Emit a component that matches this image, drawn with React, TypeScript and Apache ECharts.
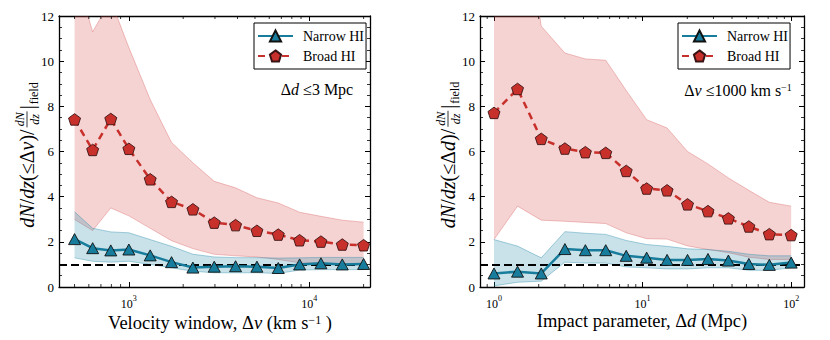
import React, { useEffect, useRef } from 'react';
import * as echarts from 'echarts';

// ---------------- data ----------------
// Left panel: velocity window (km/s)
const velocityWindow = [500, 630, 794, 1000, 1313, 1724, 2264, 2973, 3903, 5125, 6729, 8836, 11601, 15232, 20000];
const narrowByVel = [2.12, 1.72, 1.62, 1.66, 1.4, 1.1, 0.86, 0.9, 0.92, 0.9, 0.84, 1.0, 1.05, 1.0, 1.02];
const narrowByVelHi = [3.33, 2.6, 2.44, 2.4, 2.1, 1.8, 1.45, 1.33, 1.3, 1.3, 1.28, 1.29, 1.31, 1.31, 1.31];
const narrowByVelLo = [1.29, 1.14, 1.1, 1.14, 1.0, 0.85, 0.7, 0.63, 0.63, 0.63, 0.6, 0.75, 0.77, 0.77, 0.77];
const broadByVel = [7.42, 6.07, 7.44, 6.12, 4.77, 3.77, 3.44, 2.85, 2.74, 2.49, 2.32, 2.07, 2.01, 1.88, 1.85];
const broadByVelHi = [14, 11.3, 12.7, 10.6, 8.3, 6.4, 5.5, 4.68, 4.39, 3.95, 3.72, 3.31, 3.13, 2.96, 2.87];
const broadByVelLo = [2.99, 2.5, 3.5, 3.15, 2.6, 2.05, 1.7, 1.45, 1.38, 1.33, 1.22, 1.07, 1.05, 1.03, 1.0];

// Right panel: impact parameter (Mpc)
const impactParam = [1, 1.44, 2.08, 3, 4.12, 5.65, 7.76, 10.65, 14.62, 20.07, 27.55, 37.8, 51.9, 71.3, 100];
const narrowByImp = [0.6, 0.68, 0.6, 1.68, 1.63, 1.63, 1.38, 1.3, 1.2, 1.2, 1.24, 1.17, 1.02, 0.98, 1.08];
const narrowByImpHi = [2.1, 1.81, 1.29, 2.45, 2.38, 2.33, 2.06, 1.88, 1.8, 1.69, 1.66, 1.58, 1.45, 1.38, 1.38];
const narrowByImpLo = [0.05, 0.21, 0.26, 1.1, 1.06, 1.06, 0.89, 0.85, 0.8, 0.8, 0.85, 0.85, 0.74, 0.74, 0.85];
const broadByImp = [7.71, 8.77, 6.56, 6.13, 5.97, 5.94, 5.14, 4.36, 4.28, 3.66, 3.36, 3.04, 2.68, 2.34, 2.3];
const broadByImpHi = [20, 18.6, 11.55, 10.36, 10.1, 10.04, 8.7, 7.41, 7.04, 6.0, 5.45, 4.83, 4.28, 3.75, 3.58];
const broadByImpLo = [2.1, 3.58, 2.96, 2.91, 2.86, 2.81, 2.4, 2.14, 2.12, 1.82, 1.66, 1.52, 1.32, 1.22, 1.22];

// axis ranges and minor tick positions
const velRange = [410, 21700];
const impRange = [0.805, 122];
const velMinorTicks = [500, 600, 700, 800, 900, 2000, 3000, 4000, 5000, 6000, 7000, 8000, 9000, 20000];
const impMinorTicks = [0.9, 2, 3, 4, 5, 6, 7, 8, 9, 20, 30, 40, 50, 60, 70, 80, 90];
const yRange = [0, 12];
const fieldLevel = 1;
const legendNames = ['Narrow HI', 'Broad HI'];

// ---------------- styles ----------------
const FONT = '"Liberation Serif", "Times New Roman", Times, serif';
const NAR = '#187d9c';
const BRD = '#c8302b';
const PINK_FILL = 'rgba(212, 70, 70, 0.24)';
const PINK_EDGE = 'rgba(212, 70, 70, 0.32)';
const BLUE_FILL = 'rgba(40, 140, 170, 0.25)';
const BLUE_EDGE = 'rgba(40, 140, 170, 0.4)';
const PENT = 'path://M0,-1L0.951,-0.309L0.588,0.809L-0.588,0.809L-0.951,-0.309Z';

function measure(text: string, font: string): number {
  const c = document.createElement('canvas').getContext('2d');
  if (!c) return text.length * 7;
  c.font = font;
  return c.measureText(text).width;
}

function logLabel(v: number) {
  const e = Math.log10(v);
  const r = Math.round(e);
  if (Math.abs(e - r) > 1e-6) return '';
  return `{b|10}{s|${r}}`;
}

function xAxes(gridIndex: number, range: number[]) {
  const common: any = {
    type: 'log',
    logBase: 10,
    gridIndex,
    min: range[0],
    max: range[1],
    axisLine: { onZero: false, lineStyle: { color: '#000', width: 1.3 } },
    axisTick: { inside: true, length: 5, lineStyle: { color: '#000', width: 1 } },
    splitLine: { show: false },
    minorTick: { show: false },
    minorSplitLine: { show: false },
  };
  return [
    {
      ...common,
      position: 'bottom',
      axisLabel: {
        formatter: logLabel,
        showMinLabel: false,
        showMaxLabel: false,
        margin: 7,
        color: '#000',
        rich: {
          b: { fontFamily: FONT, fontSize: 12, color: '#000', padding: [4, 0, 0, 0] },
          s: { fontFamily: FONT, fontSize: 8, color: '#000', verticalAlign: 'top' },
        },
      },
    },
    { ...common, position: 'top', axisLabel: { show: false } },
  ];
}

function yAxes(gridIndex: number) {
  const common: any = {
    type: 'value',
    gridIndex,
    min: yRange[0],
    max: yRange[1],
    interval: 2,
    axisLine: { onZero: false, lineStyle: { color: '#000', width: 1.3 } },
    axisTick: { inside: true, length: 5, lineStyle: { color: '#000', width: 1 } },
    minorTick: { show: true, splitNumber: 4, length: 3, lineStyle: { color: '#000', width: 0.8 } },
    splitLine: { show: false },
  };
  return [
    { ...common, position: 'left', axisLabel: { color: '#000', fontFamily: FONT, fontSize: 13, margin: 5 } },
    { ...common, position: 'right', axisLabel: { show: false } },
  ];
}

// shaded range drawn as one polygon through the axis scales, clipped to the grid
function band(xs: number[], lo: number[], hi: number[], fill: string, edge: string, xi: number, yi: number) {
  return {
    type: 'custom', xAxisIndex: xi, yAxisIndex: yi, silent: true, z: 1,
    data: xs.map((x, i) => [x, lo[i], hi[i]]),
    encode: { x: 0, y: [1, 2] },
    renderItem: (params: any, api: any) => {
      if (params.dataIndexInside !== 0) return null;
      const n = params.dataInsideLength;
      const upper: number[][] = [];
      const lower: number[][] = [];
      for (let k = 0; k < n; k++) {
        upper.push(api.coord([api.value(0, k), api.value(2, k)]));
        lower.push(api.coord([api.value(0, k), api.value(1, k)]));
      }
      const poly = upper.concat(lower.slice().reverse());
      const cs = params.coordSys;
      return {
        type: 'group',
        clipPath: { type: 'rect', shape: { x: cs.x, y: cs.y, width: cs.width, height: cs.height } },
        children: [
          { type: 'polygon', shape: { points: poly }, style: { fill, stroke: null } },
          { type: 'polyline', shape: { points: upper }, style: { stroke: edge, lineWidth: 1, fill: null } },
          { type: 'polyline', shape: { points: lower }, style: { stroke: edge, lineWidth: 1, fill: null } },
        ],
      };
    },
  };
}

function mainSeries(xs: number[], narrow: number[], broad: number[], xi: number, yi: number) {
  return [
    {
      type: 'line', name: 'ref' + xi, xAxisIndex: xi, yAxisIndex: yi, data: [], z: 3,
      markLine: {
        silent: true, symbol: 'none', label: { show: false }, z: 3,
        lineStyle: { color: '#000', width: 2, type: [8, 4] },
        data: [{ yAxis: fieldLevel }],
      },
    },
    {
      type: 'line', name: 'Broad HI', xAxisIndex: xi, yAxisIndex: yi,
      data: xs.map((x, i) => [x, broad[i]]),
      symbol: PENT, symbolSize: [12, 11.5],
      itemStyle: { color: BRD, borderColor: '#3a1414', borderWidth: 0.9 },
      lineStyle: { color: BRD, width: 2.5, type: [7, 5] }, z: 4,
    },
    {
      type: 'line', name: 'Narrow HI', xAxisIndex: xi, yAxisIndex: yi,
      data: xs.map((x, i) => [x, narrow[i]]),
      symbol: 'triangle', symbolSize: [12, 11],
      itemStyle: { color: NAR, borderColor: '#111', borderWidth: 0.9 },
      lineStyle: { color: NAR, width: 2.5 }, z: 5,
    },
  ];
}

function minorTickSeries(ticks: number[], xi: number, yi: number) {
  return {
    type: 'custom', xAxisIndex: xi, yAxisIndex: yi, silent: true, z: 6,
    data: ticks.map((t) => [t, 0]),
    renderItem: (params: any, api: any) => {
      const x = api.coord([api.value(0), 0])[0];
      const cs = params.coordSys;
      const b = cs.y + cs.height;
      return {
        type: 'group',
        children: [
          { type: 'line', shape: { x1: x, y1: b, x2: x, y2: b - 3 }, style: { stroke: '#000', lineWidth: 0.8 } },
          { type: 'line', shape: { x1: x, y1: cs.y, x2: x, y2: cs.y + 3 }, style: { stroke: '#000', lineWidth: 0.8 } },
        ],
      };
    },
  };
}

function yLabel(cx: number, cy: number, sym: string) {
  const F = 20;
  const f = 12;
  const it = `italic ${F}px ${FONT}`;
  const rm = `${F}px ${FONT}`;
  const fit = `italic ${f}px ${FONT}`;
  const segs: [string, boolean][] = [['dN', true], ['/', false], ['dz', true], ['(≤Δ', false], [sym, true], [')/', false]];
  const w1 = segs.reduce((s, [t, i]) => s + measure(t, i ? it : rm), 0);
  const fw = Math.max(measure('dN', fit), measure('dz', fit)) + 2;
  const wBar = measure('|', rm);
  const wField = measure('field', `${f}px ${FONT}`);
  const gap = 2;
  const total = w1 + gap + fw + gap + wBar + 1 + wField;
  const x0 = -total / 2;
  const x1 = x0 + w1 + gap;
  const x2 = x1 + fw + gap;
  const x3 = x2 + wBar + 1;
  const rich = {
    i: { fontFamily: FONT, fontSize: F, fontStyle: 'italic', fill: '#000', color: '#000' },
    r: { fontFamily: FONT, fontSize: F, fill: '#000', color: '#000' },
  };
  const text = segs.map(([t, i]) => `{${i ? 'i' : 'r'}|${t}}`).join('');
  const small = (t: string, x: number, y: number, font: string) => ({
    type: 'text', x, y,
    style: { text: t, font, fill: '#000', align: 'center', verticalAlign: 'middle' },
  });
  return {
    type: 'group', x: cx, y: cy, rotation: Math.PI / 2, silent: true,
    children: [
      { type: 'text', x: x0, y: 0, style: { text, rich, font: rm, fill: '#000', align: 'left', verticalAlign: 'middle' } },
      small('dN', x1 + fw / 2, -7, fit),
      { type: 'line', shape: { x1: x1, y1: 0, x2: x1 + fw, y2: 0 }, style: { stroke: '#000', lineWidth: 0.8 } },
      small('dz', x1 + fw / 2, 7.5, fit),
      { type: 'text', x: x2, y: 0, style: { text: '|', font: rm, fill: '#000', align: 'left', verticalAlign: 'middle' } },
      { type: 'text', x: x3, y: 7, style: { text: 'field', font: `${f}px ${FONT}`, fill: '#000', align: 'left', verticalAlign: 'middle' } },
    ],
  };
}

function richText(x: number, y: number, text: string, size: number) {
  return {
    type: 'text', x, y, silent: true,
    style: {
      text,
      font: `${size}px ${FONT}`,
      fill: '#000',
      align: 'center',
      verticalAlign: 'middle',
      rich: {
        r: { fontFamily: FONT, fontSize: size, fill: '#000', color: '#000' },
        i: { fontFamily: FONT, fontSize: size, fontStyle: 'italic', fill: '#000', color: '#000' },
        s: { fontFamily: FONT, fontSize: Math.round(size * 0.65), fill: '#000', color: '#000', verticalAlign: 'top' },
      },
    },
  };
}

function mkLegend(left: number) {
  return {
    data: legendNames,
    left,
    top: 23,
    orient: 'vertical',
    itemWidth: 35,
    itemHeight: 14,
    itemGap: 6,
    padding: [6, 2, 6, 3],
    borderColor: '#000',
    borderWidth: 1,
    borderRadius: 0,
    backgroundColor: '#fff',
    selectedMode: false,
    textStyle: { fontFamily: FONT, fontSize: 14, color: '#000', padding: [0, 0, 0, 5] },
    z: 10,
  };
}

export default function App() {
  const ref = useRef<HTMLDivElement>(null);
  useEffect(() => {
    if (!ref.current) return;
    const chart = echarts.init(ref.current, undefined, { renderer: 'svg' });
    const option: any = {
      animation: false,
      backgroundColor: '#fff',
      grid: [
        { left: 59, top: 16, width: 311, height: 271 },
        { left: 480, top: 16, width: 324, height: 271 },
      ],
      xAxis: [...xAxes(0, velRange), ...xAxes(1, impRange)],
      yAxis: [...yAxes(0), ...yAxes(1)],
      legend: [mkLegend(254), mkLegend(678)],
      series: [
        band(velocityWindow, broadByVelLo, broadByVelHi, PINK_FILL, PINK_EDGE, 0, 0),
        band(velocityWindow, narrowByVelLo, narrowByVelHi, BLUE_FILL, BLUE_EDGE, 0, 0),
        ...mainSeries(velocityWindow, narrowByVel, broadByVel, 0, 0),
        minorTickSeries(velMinorTicks, 0, 0),
        band(impactParam, broadByImpLo, broadByImpHi, PINK_FILL, PINK_EDGE, 2, 2),
        band(impactParam, narrowByImpLo, narrowByImpHi, BLUE_FILL, BLUE_EDGE, 2, 2),
        ...mainSeries(impactParam, narrowByImp, broadByImp, 2, 2),
        minorTickSeries(impMinorTicks, 2, 2),
      ],
      graphic: [
        yLabel(27, 155, 'v'),
        yLabel(448, 155, 'd'),
        richText(220, 323, '{r|Velocity window, Δ}{i|v}{r| (km s}{s|−1}{r| )}', 18.5),
        richText(642, 321, '{r|Impact parameter, Δ}{i|d}{r| (Mpc)}', 18.5),
        richText(317, 89, '{r|Δ}{i|d}{r| ≤3 Mpc}', 16),
        richText(738, 90, '{r|Δ}{i|v}{r| ≤1000 km s}{s|−1}', 16),
      ],
    };
    chart.setOption(option);
    return () => chart.dispose();
  }, []);
  return <div ref={ref} style={{ position: 'fixed', left: 0, top: 0, width: 830, height: 340, background: '#fff' }} />;
}
